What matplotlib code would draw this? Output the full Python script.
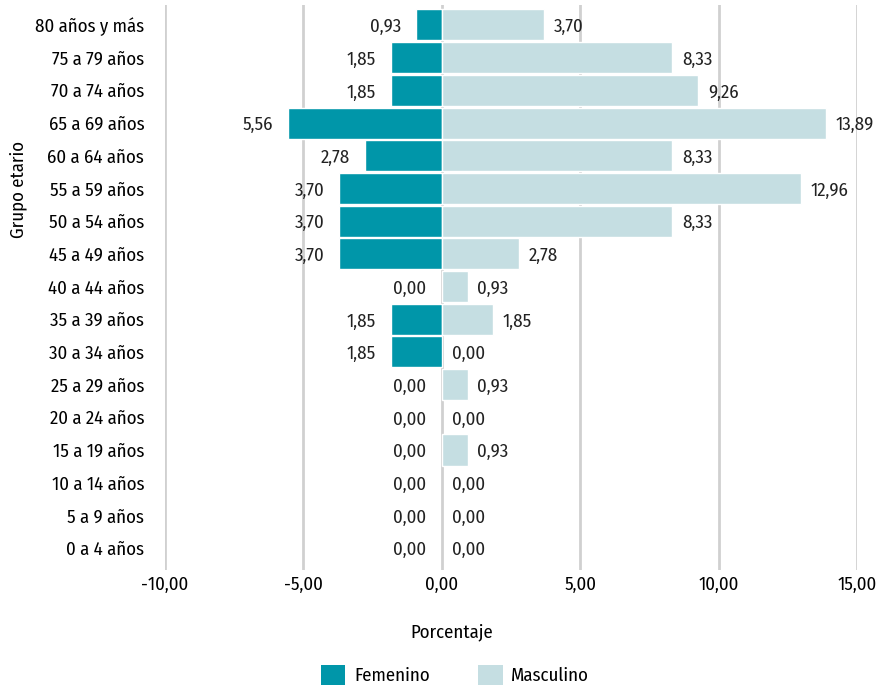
import matplotlib
matplotlib.use("Agg")
import matplotlib.pyplot as plt
from matplotlib.font_manager import fontManager
from matplotlib.patches import Patch

# data (bottom to top)
grupos = ["0 a 4 años", "5 a 9 años", "10 a 14 años", "15 a 19 años", "20 a 24 años",
          "25 a 29 años", "30 a 34 años", "35 a 39 años", "40 a 44 años", "45 a 49 años",
          "50 a 54 años", "55 a 59 años", "60 a 64 años", "65 a 69 años", "70 a 74 años",
          "75 a 79 años", "80 años y más"]
femenino = [0.00, 0.00, 0.00, 0.00, 0.00, 0.00, 1.85, 1.85, 0.00, 3.70,
            3.70, 3.70, 2.78, 5.56, 1.85, 1.85, 0.93]
masculino = [0.00, 0.00, 0.00, 0.93, 0.00, 0.93, 0.00, 1.85, 0.93, 2.78,
             8.33, 12.96, 8.33, 13.89, 9.26, 8.33, 3.70]
xticks = [-10, -5, 0, 5, 10, 15]

# condensed font if one is around, Lato otherwise
names = {f.name for f in fontManager.ttflist}
fam = "Lato"
for cand in ["Fira Sans Condensed", "Encode Sans Condensed", "Barlow Semi Condensed",
             "Roboto Condensed", "PT Sans Narrow", "Open Sans Condensed", "Liberation Sans Narrow"]:
    if cand in names:
        fam = cand
        break
plt.rcParams['font.family'] = [fam, 'DejaVu Sans']
FS = 13.5

col_f = "#0096a9"
col_m = "#c5dee2"

def fmt(v):
    return ("%.2f" % v).replace(".", ",")

fig = plt.figure(figsize=(8.92, 6.87), dpi=100)
ax = fig.add_axes([165/892, 1-570/687, (857-165)/892, 565/687])

y = list(range(len(grupos)))
ax.barh(y, [-v for v in femenino], height=0.95, color=col_f,
        edgecolor=["white" if v else "none" for v in femenino], linewidth=1, zorder=3)
ax.barh(y, masculino, height=0.95, color=col_m,
        edgecolor=["white" if v else "none" for v in masculino], linewidth=1, zorder=3)

for i in y:
    ax.annotate(fmt(femenino[i]), (-femenino[i], i), xytext=(-11, -1.5), textcoords="offset points",
                ha="right", va="center", fontsize=FS, color="#222222")
    ax.annotate(fmt(masculino[i]), (masculino[i], i), xytext=(7, -1.5), textcoords="offset points",
                ha="left", va="center", fontsize=FS, color="#222222")

ax.set_xlim(-10, 15)
ax.set_ylim(-0.67, 16.61)
ax.set_xticks(xticks)
ax.set_xticklabels([fmt(t) for t in xticks], fontsize=FS)
ax.set_yticks(y)
ax.set_yticklabels(grupos, fontsize=FS)
ax.tick_params(length=0)
ax.tick_params(axis="x", pad=4)
ax.tick_params(axis="y", pad=15)
ax.grid(axis="x", color="#d0d0d0", linewidth=2, zorder=0)
for s in ax.spines.values():
    s.set_visible(False)

fig.text(452/892, 1-632/687, "Porcentaje", ha="center", va="center", fontsize=FS)
fig.text(18/892, 1-190/687, "Grupo etario", ha="center", va="center", rotation=90, fontsize=FS)

handles = [Patch(facecolor=col_f, label="Femenino"), Patch(facecolor=col_m, label="Masculino")]
fig.legend(handles=handles, loc="center", bbox_to_anchor=(455/892, 1-675/687), ncol=2,
           frameon=False, fontsize=FS, handlelength=1.3, handleheight=1.3, columnspacing=2.6,
           handletextpad=0.45)

fig.savefig("out.png", dpi=100)
